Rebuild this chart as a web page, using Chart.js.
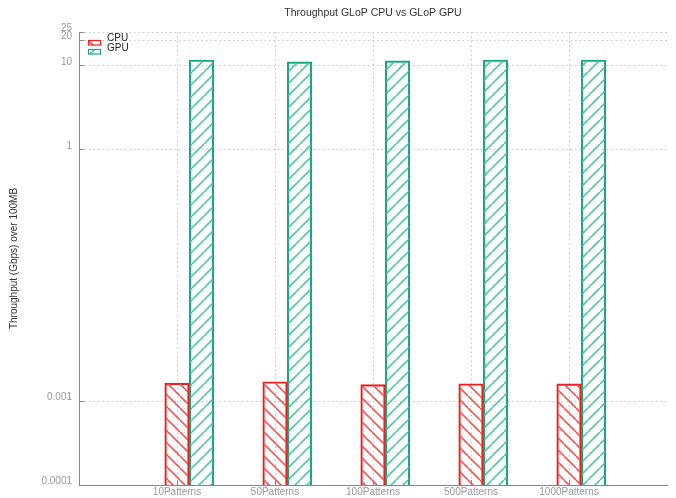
<!DOCTYPE html>
<html>
<head>
<meta charset="utf-8">
<script src="https://cdn.jsdelivr.net/npm/chart.js@4.4.0/dist/chart.umd.min.js"></script>
<style>
  html, body { margin: 0; padding: 0; background: #fff; }
</style>
</head>
<body>
<canvas id="chart" width="676" height="498"></canvas>
<script>
// === DATA ===
const categories = ["10Patterns", "50Patterns", "100Patterns", "500Patterns", "1000Patterns"];
const cpuValues = [0.00164, 0.0017, 0.00157, 0.00161, 0.0016];
const gpuValues = [11.6, 11.0, 11.3, 11.6, 11.6];
const yTicks = [0.0001, 0.001, 1, 10, 20, 25];

const FONT = '"Liberation Sans", Arial, sans-serif';
const CPU_LINE = "#ee1f1f", CPU_HATCH = "#f25757";
const GPU_LINE = "#15a883", GPU_HATCH = "#5cc4a6";

// hatch pattern: dir 1 = "\" , dir -1 = "/"
function hatch(color, dir) {
  const s = 12;
  const c = document.createElement("canvas");
  c.width = s; c.height = s;
  const g = c.getContext("2d");
  g.strokeStyle = color;
  g.lineWidth = 1.6;
  for (const k of [-1, 0, 1]) {
    g.beginPath();
    if (dir > 0) { g.moveTo(k * s, 0); g.lineTo(k * s + s, s); }
    else { g.moveTo(k * s, s); g.lineTo(k * s + s, 0); }
    g.stroke();
  }
  return g.createPattern(c, "repeat");
}
const cpuPattern = hatch(CPU_HATCH, 1);
const gpuPattern = hatch(GPU_HATCH, -1);

// === title, legend and inward tick marks ===
const extras = {
  id: "extras",
  afterDraw(chart) {
    const { ctx, chartArea: a, scales } = chart;
    ctx.save();
    ctx.fillStyle = "#333";
    ctx.font = "10.5px " + FONT;
    ctx.textAlign = "center";
    ctx.textBaseline = "middle";
    ctx.fillText("Throughput GLoP CPU vs GLoP GPU", (a.left + a.right) / 2, 13);

    // inward ticks
    ctx.strokeStyle = "#888";
    ctx.lineWidth = 1;
    ctx.beginPath();
    yTicks.forEach(v => {
      const y = Math.round(scales.y.getPixelForValue(v)) + 0.5;
      ctx.moveTo(a.left, y); ctx.lineTo(a.left + 5, y);
    });
    categories.forEach((c, i) => {
      const x = Math.round(scales.x.getPixelForValue(i)) + 0.5;
      ctx.moveTo(x, a.bottom); ctx.lineTo(x, a.bottom - 5);
    });
    ctx.stroke();

    // legend
    const items = [["CPU", CPU_LINE, cpuPattern, 40, 38.5], ["GPU", GPU_LINE, gpuPattern, 49, 48]];
    ctx.textAlign = "left";
    ctx.font = "10px " + FONT;
    items.forEach(([txt, line, pat, by, ty]) => {
      ctx.fillStyle = pat;
      ctx.fillRect(88, by, 13, 5);
      ctx.strokeStyle = line;
      ctx.lineWidth = 1.2;
      ctx.strokeRect(88.5, by + 0.5, 12, 4.5);
      ctx.fillStyle = "#222";
      ctx.fillText(txt, 107, ty);
    });
    ctx.restore();
  }
};

new Chart(document.getElementById("chart"), {
  type: "bar",
  data: {
    datasets: [
      {
        label: "CPU",
        data: cpuValues.map((v, i) => ({ x: i, y: v })),
        backgroundColor: cpuPattern,
        borderColor: CPU_LINE,
        borderWidth: 1.5,
        barThickness: 24.5,
        grouped: false
      },
      {
        label: "GPU",
        data: gpuValues.map((v, i) => ({ x: i + 0.25, y: v })),
        backgroundColor: gpuPattern,
        borderColor: GPU_LINE,
        borderWidth: 1.5,
        barThickness: 24.5,
        grouped: false
      }
    ]
  },
  options: {
    responsive: false,
    animation: false,
    layout: { padding: { left: 0, top: 32, right: 9, bottom: 0 } },
    plugins: { legend: { display: false }, tooltip: { enabled: false } },
    scales: {
      x: {
        type: "linear",
        min: -1,
        max: 5,
        offset: false,
        afterBuildTicks: s => { s.ticks = categories.map((c, i) => ({ value: i })); },
        afterFit: s => { s.height = 13; },
        ticks: {
          callback: v => categories[v] ?? "",
          color: "#999",
          font: { size: 10, family: FONT },
          padding: 1,
          maxRotation: 0,
          autoSkip: false
        },
        grid: { color: "#c6c6c6", drawTicks: false, offset: false },
        border: { color: "#888", width: 1, dash: [1.5, 3] }
      },
      y: {
        type: "logarithmic",
        min: 0.0001,
        max: 25,
        afterBuildTicks: s => { s.ticks = yTicks.map(v => ({ value: v })); },
        afterFit: s => { s.width = 79; },
        ticks: {
          callback: v => String(v),
          color: "#999",
          font: { size: 10, family: FONT },
          padding: 7,
          labelOffset: -3.5,
          autoSkip: false
        },
        grid: { color: "#c6c6c6", drawTicks: false },
        border: { color: "#888", width: 1, dash: [1.5, 3] },
        title: {
          display: true,
          text: "Throughput (Gbps) over 100MB",
          color: "#333",
          font: { size: 10, family: FONT },
          padding: { top: 8, bottom: 0 }
        }
      }
    }
  },
  plugins: [extras]
});
</script>
</body>
</html>
